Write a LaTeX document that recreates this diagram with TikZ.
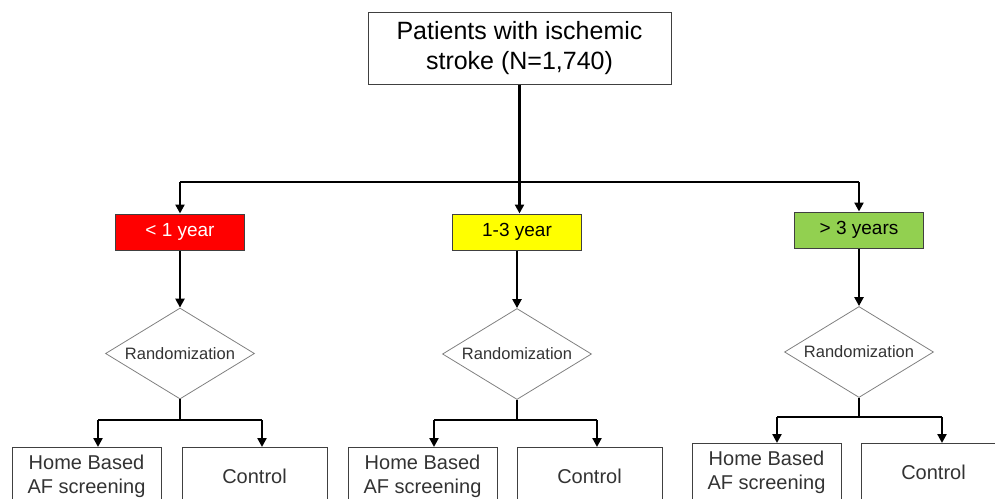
\documentclass[tikz,border=0pt]{standalone}
\usepackage{fontspec}
\setmainfont{Liberation Sans}
\usetikzlibrary{arrows.meta,shapes.geometric}
\definecolor{boxgray}{HTML}{404040}
\definecolor{dgray}{HTML}{808080}
\definecolor{lvlred}{HTML}{FF0000}
\definecolor{lvlyellow}{HTML}{FFFF00}
\definecolor{lvlgreen}{HTML}{92D050}
\definecolor{txtgray}{HTML}{333333}
\begin{document}
\begin{tikzpicture}[x=1pt,y=-1pt,
  topbox/.style={draw=boxgray,line width=1pt,minimum width=303pt,minimum height=72pt,inner sep=0pt,align=center,font=\fontsize{25}{30}\selectfont},
  lvlbox/.style={draw=boxgray,line width=1pt,minimum width=129pt,minimum height=36pt,inner sep=0pt,font=\fontsize{19}{22}\selectfont},
  randbox/.style={diamond,aspect=1.64,draw=dgray,line width=0.8pt,minimum width=149pt,minimum height=91pt,inner sep=0pt,font=\fontsize{16.5}{19}\selectfont,text=txtgray},
  armbox/.style={draw=boxgray,line width=1pt,minimum height=58pt,inner sep=0pt,anchor=north,align=center,font=\fontsize{20}{24}\selectfont,text=txtgray},
  conn/.style={line width=2.8pt,black},
  arr/.style={conn,-{Triangle[width=9pt,length=9pt]}}
]
\useasboundingbox (0,0) rectangle (995,498);
\clip (0,0) rectangle (995,498);

\node[topbox] (top) at (519.5,48) {Patients with ischemic\\stroke (N=1,740)};

\node[lvlbox,fill=lvlred,text=white] (lvA) at (180,232) {< 1 year};
\node[lvlbox,fill=lvlyellow] (lvB) at (517,232) {1-3 year};
\node[lvlbox,fill=lvlgreen] (lvC) at (859,230) {> 3 years};

\node[randbox] (rA) at (180,353.5) {Randomization};
\node[randbox] (rB) at (517,354) {Randomization};
\node[randbox] (rC) at (859,352) {Randomization};

\node[armbox,minimum width=149pt] (hA) at (86.5,447) {Home Based\\AF screening};
\node[armbox,minimum width=145pt] (cA) at (254.5,447) {Control};
\node[armbox,minimum width=149pt] (hB) at (422.5,447) {Home Based\\AF screening};
\node[armbox,minimum width=145pt] (cB) at (589.5,447) {Control};
\node[armbox,minimum width=149pt] (hC) at (766.5,443) {Home Based\\AF screening};
\node[armbox,minimum width=145pt] (cC) at (933.5,443) {Control};

% top split
\coordinate (hub) at (519.5,182);
\coordinate (hubL) at (180,182);
\coordinate (hubR) at (859,182);
\draw[conn] (top.south) -- (hub);
\draw[conn] (hubL) -- (hubR);
\draw[arr] (hubL) -- (lvA.north);
\draw[arr] (hub) -- (hub |- lvB.north);
\draw[arr] (hubR) -- (lvC.north);

% level to randomization
\draw[arr] (lvA.south) -- (rA.north);
\draw[arr] (lvB.south) -- (rB.north);
\draw[arr] (lvC.south) -- (rC.north);

% randomization splits
\coordinate (bA) at (180,420);
\coordinate (bAl) at (98,420);
\coordinate (bAr) at (262,420);
\draw[conn] (rA.south) -- (bA);
\draw[conn] (bAl) -- (bAr);
\draw[arr] (bAl) -- (bAl |- hA.north);
\draw[arr] (bAr) -- (bAr |- cA.north);

\coordinate (bB) at (517,420);
\coordinate (bBl) at (434,420);
\coordinate (bBr) at (597,420);
\draw[conn] (rB.south) -- (bB);
\draw[conn] (bBl) -- (bBr);
\draw[arr] (bBl) -- (bBl |- hB.north);
\draw[arr] (bBr) -- (bBr |- cB.north);

\coordinate (bC) at (859,417);
\coordinate (bCl) at (777,417);
\coordinate (bCr) at (942,417);
\draw[conn] (rC.south) -- (bC);
\draw[conn] (bCl) -- (bCr);
\draw[arr] (bCl) -- (bCl |- hC.north);
\draw[arr] (bCr) -- (bCr |- cC.north);
\end{tikzpicture}
\end{document}
